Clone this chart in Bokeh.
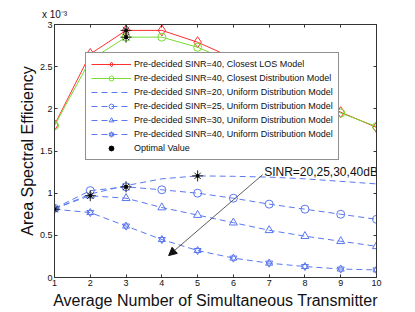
from bokeh.plotting import figure
from bokeh.models import (FixedTicker, LinearAxis, Range1d, Legend, LegendItem,
                          Label, Arrow, NormalHead)
from bokeh.embed import file_html
from bokeh.resources import INLINE

# ---- data (values in units of 1e-3) ----
x_vals = [1, 2, 3, 4, 5, 6, 7, 8, 9, 10]
los_40 = [1.81, 2.65, 2.93, 2.93, 2.79, 2.60, 2.40, 2.18, 1.96, 1.78]
dist_40 = [1.80, 2.58, 2.85, 2.85, 2.73, 2.55, 2.36, 2.15, 1.95, 1.79]
uni_20 = [0.81, 0.99, 1.09, 1.17, 1.205, 1.20, 1.19, 1.17, 1.14, 1.11]
uni_25 = [0.82, 1.03, 1.075, 1.04, 1.00, 0.94, 0.87, 0.81, 0.75, 0.69]
uni_30 = [0.82, 0.97, 0.94, 0.83, 0.74, 0.65, 0.56, 0.49, 0.43, 0.37]
uni_40 = [0.81, 0.77, 0.61, 0.45, 0.32, 0.23, 0.17, 0.13, 0.10, 0.09]
opt_x = [3, 3, 1, 2, 3, 5]
opt_y = [2.93, 2.85, 0.81, 0.97, 1.075, 1.205]

x_ticks = [1, 2, 3, 4, 5, 6, 7, 8, 9, 10]
y_ticks = [0, 0.5, 1, 1.5, 2, 2.5, 3]
y_tick_labels = ["0", "0.5", "1", "1.5", "2", "2.5", "3"]

labels = [
    "Pre-decided SINR=40, Closest LOS Model",
    "Pre-decided SINR=40, Closest Distribution Model",
    "Pre-decided SINR=20, Uniform Distribution Model",
    "Pre-decided SINR=25, Uniform Distribution Model",
    "Pre-decided SINR=30, Uniform Distribution Model",
    "Pre-decided SINR=40, Uniform Distribution Model",
    "Optimal Value",
]

FONT = "Liberation Sans"
RED = "#ff3030"
GREEN = "#77dd33"
BLUE = "#5a78f0"
DASH = "6 4"

p = figure(width=415, height=312, x_range=Range1d(1, 10), y_range=Range1d(0, 3),
           output_backend="svg", toolbar_location=None,
           min_border_left=54, min_border_right=39, min_border_top=24,
           min_border_bottom=35)
p.background_fill_color = "white"
p.border_fill_color = "white"
p.outline_line_color = "#333333"
p.outline_line_width = 1
p.xgrid.visible = False
p.ygrid.visible = False

for ax in p.xaxis:
    ax.ticker = FixedTicker(ticks=x_ticks)
for ax in p.yaxis:
    ax.ticker = FixedTicker(ticks=y_ticks)
    ax.major_label_overrides = {t: l for t, l in zip(y_ticks, y_tick_labels)}

for ax in list(p.xaxis) + list(p.yaxis):
    ax.major_tick_in = 3
    ax.major_tick_out = 0
    ax.minor_tick_line_color = None
    ax.axis_line_color = "#333333"
    ax.major_tick_line_color = "#333333"
    ax.major_label_text_font = FONT
    ax.major_label_text_font_size = "9px"
    ax.major_label_text_color = "#111111"
    ax.major_label_standoff = 2
    ax.axis_label_text_font = FONT
    ax.axis_label_text_font_size = "16px"
    ax.axis_label_text_font_style = "normal"
    ax.axis_label_text_color = "#111111"
    ax.axis_label_standoff = 1
for ax in p.xaxis:
    ax.axis_label_standoff = 3

p.xaxis.axis_label = "Average Number of Simultaneous Transmitter"
p.yaxis.axis_label = "Area Spectral Efficiency"

top_ax = LinearAxis(ticker=FixedTicker(ticks=x_ticks), major_label_text_color=None,
                    major_label_text_font_size="1px",
                    major_tick_in=3, major_tick_out=0, minor_tick_line_color=None,
                    axis_line_color="#333333", major_tick_line_color="#333333",
                    major_label_standoff=0,
                    axis_label="x 10\u207b\u00b3", axis_label_text_font=FONT,
                    axis_label_text_font_size="10px", axis_label_text_font_style="normal",
                    axis_label_text_color="#111111", axis_label_standoff=5,
                    axis_label_align="start")
right_ax = LinearAxis(ticker=FixedTicker(ticks=y_ticks), major_label_text_color=None,
                      major_label_text_font_size="1px",
                      major_tick_in=3, major_tick_out=0, minor_tick_line_color=None,
                      axis_line_color="#333333", major_tick_line_color="#333333",
                      major_label_standoff=0)
p.add_layout(top_ax, "above")
p.add_layout(right_ax, "right")

# ---- series ----
r_los_l = p.line(x_vals, los_40, line_color=RED, line_width=1)
r_los_m = p.scatter(x_vals, los_40, marker="diamond", size=11, line_color=RED,
                    fill_color=None, line_width=1)

r_dist_l = p.line(x_vals, dist_40, line_color=GREEN, line_width=1)
r_dist_m = p.scatter(x_vals, dist_40, marker="circle", size=8, line_color=GREEN,
                     fill_color=None, line_width=1)

r_20_l = p.line(x_vals, uni_20, line_color=BLUE, line_width=1, line_dash=DASH)

r_25_l = p.line(x_vals, uni_25, line_color=BLUE, line_width=1, line_dash=DASH)
r_25_m = p.scatter(x_vals, uni_25, marker="circle", size=8, line_color=BLUE,
                   fill_color=None, line_width=1)

r_30_l = p.line(x_vals, uni_30, line_color=BLUE, line_width=1, line_dash=DASH)
r_30_m = p.scatter(x_vals, uni_30, marker="triangle", size=8, line_color=BLUE,
                   fill_color=None, line_width=1)

r_40_l = p.line(x_vals, uni_40, line_color=BLUE, line_width=1, line_dash=DASH)
r_40_m1 = p.scatter(x_vals, uni_40, marker="triangle", size=7, line_color=BLUE,
                    fill_color=None, line_width=1)
r_40_m2 = p.scatter(x_vals, uni_40, marker="inverted_triangle", size=7, line_color=BLUE,
                    fill_color=None, line_width=1)

r_opt1 = p.scatter(opt_x, opt_y, marker="cross", size=11, line_color="#222222", line_width=1)
r_opt2 = p.scatter(opt_x, opt_y, marker="x", size=9, line_color="#222222", line_width=1)
r_opt3 = p.scatter(opt_x, opt_y, marker="circle", size=3, line_color="#000000",
                   fill_color="#000000")

legend = Legend(items=[
    LegendItem(label=labels[0], renderers=[r_los_l, r_los_m]),
    LegendItem(label=labels[1], renderers=[r_dist_l, r_dist_m]),
    LegendItem(label=labels[2], renderers=[r_20_l]),
    LegendItem(label=labels[3], renderers=[r_25_l, r_25_m]),
    LegendItem(label=labels[4], renderers=[r_30_l, r_30_m]),
    LegendItem(label=labels[5], renderers=[r_40_l, r_40_m1, r_40_m2]),
    LegendItem(label=labels[6], renderers=[r_opt1, r_opt2, r_opt3]),
], location=(31, 117))
legend.label_text_font = FONT
legend.label_text_font_size = "9px"
legend.label_text_color = "#111111"
legend.glyph_width = 40
legend.glyph_height = 12
legend.label_height = 12
legend.spacing = 2
legend.padding = 5
legend.margin = 0
legend.label_standoff = 3
legend.border_line_color = "#222222"
legend.border_line_width = 1
legend.background_fill_alpha = 1
p.add_layout(legend)

# ---- annotations ----
p.add_layout(Arrow(end=NormalHead(size=8, fill_color="#111111", line_color="#111111"),
                   x_start=6.82, y_start=1.22, x_end=4.19, y_end=0.26,
                   line_color="#333333", line_width=0.8))
p.add_layout(Label(x=6.86, y=1.255, text="SINR=20,25,30,40dB", text_font=FONT,
                   text_font_size="12px", text_color="#111111",
                   text_baseline="alphabetic"))

open("out.html", "w").write(file_html(p, INLINE))
